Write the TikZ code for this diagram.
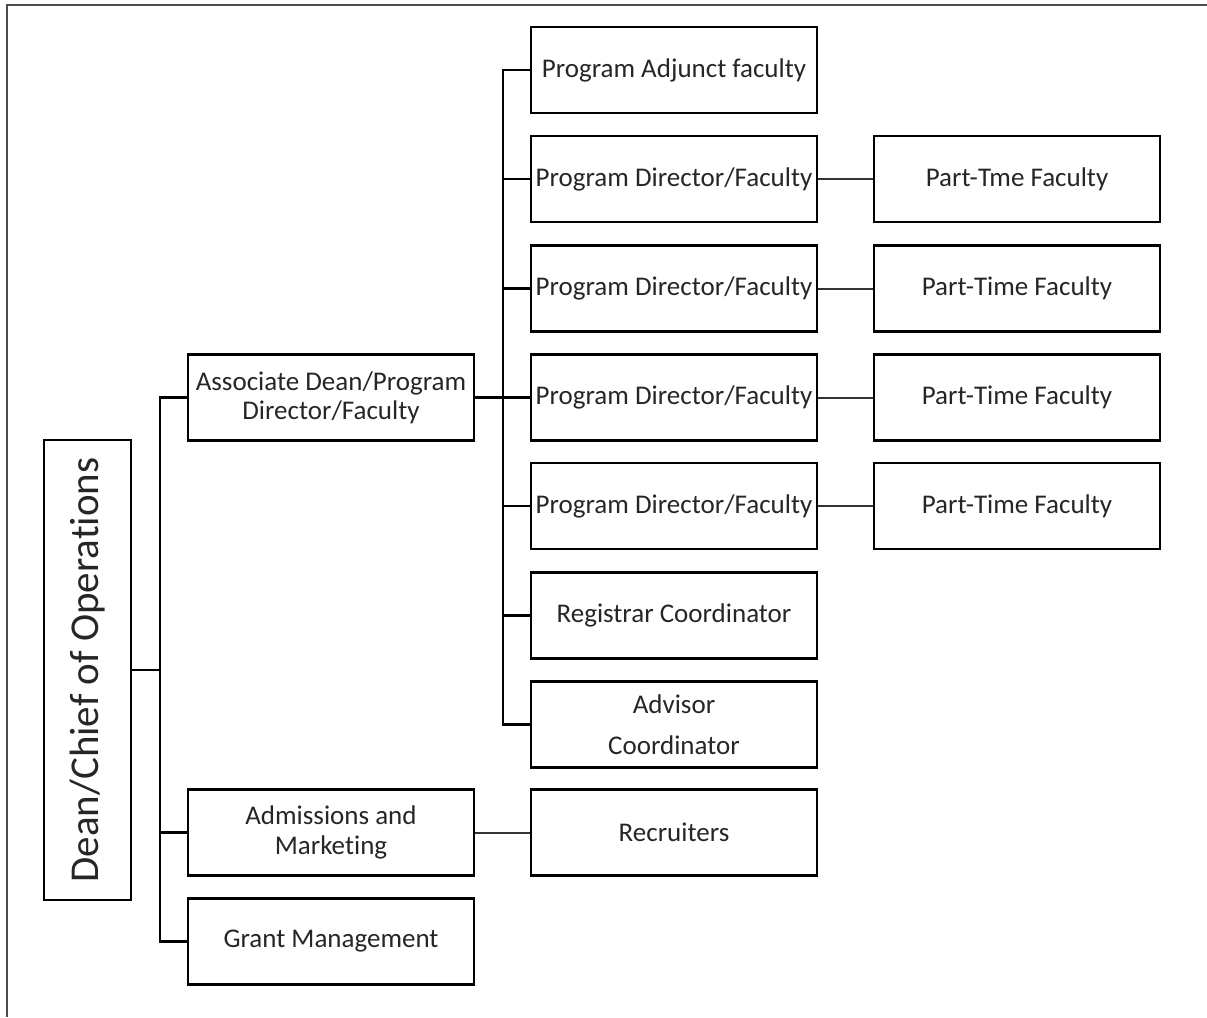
\documentclass[tikz,border=0pt]{standalone}
\usepackage{fontspec}
\setmainfont[Ligatures=NoCommon]{Carlito}
\begin{document}
\begin{tikzpicture}[x=1pt,y=-1pt,
  box/.style={draw=black,line width=2.5pt,minimum width=286pt,minimum height=86pt,
    inner sep=0pt,align=center,font=\fontsize{27}{29}\selectfont,text=black!85},
  link/.style={line width=2.5pt},
  thin link/.style={line width=2pt,draw=black!80}]
\useasboundingbox (0,0) rectangle (1207,1017);
% page frame
\draw[line width=1.5pt,draw=black!70] (7,1017) -- (7,5) -- (1207,5);

% top of the hierarchy
\node[draw=black,line width=2.5pt,minimum width=87pt,minimum height=460pt,inner sep=0pt]
  (dean) at (87.5,670) {};
\node[rotate=90,font=\fontsize{41}{46}\selectfont,text=black!85] at (dean.center) {Dean/Chief of Operations};

% second level
\node[box] (assoc) at (331,397.5) {Associate Dean/Program\\Director/Faculty};
\node[box,font=\fontsize{27}{30}\selectfont] (adm) at (331,832.5) {Admissions and\\Marketing};
\node[box] (grant) at (331,941.5) {Grant Management};

% third level
\node[box] (adj) at (674,70) {Program Adjunct faculty};
\node[box] (pd1) at (674,179) {Program Director/Faculty};
\node[box] (pd2) at (674,288.5) {Program Director/Faculty};
\node[box] (pd3) at (674,397.5) {Program Director/Faculty};
\node[box] (pd4) at (674,506) {Program Director/Faculty};
\node[box] (reg) at (674,615.5) {Registrar Coordinator};
\node[box,font=\fontsize{27}{41}\selectfont] (adv) at (674,724.5) {Advisor\\Coordinator};
\node[box] (rec) at (674,832.5) {Recruiters};

% part-time faculty
\node[box] (pt1) at (1017,179) {Part-Tme Faculty};
\node[box] (pt2) at (1017,288.5) {Part-Time Faculty};
\node[box] (pt3) at (1017,397.5) {Part-Time Faculty};
\node[box] (pt4) at (1017,506) {Part-Time Faculty};

% dean bus
\coordinate (busA) at (160,0);
\draw[link] (dean.east) -- (dean.east -| busA);
\draw[link] (assoc.west) -- (assoc.west -| busA) -- (grant.west -| busA) -- (grant.west);
\draw[link] (adm.west) -- (adm.west -| busA);

% associate dean bus
\coordinate (busB) at (503,0);
\draw[line width=3.8pt] (assoc.east) -- (assoc.east -| busB);
\draw[link] (adj.west) -- (adj.west -| busB) -- (adv.west -| busB) -- (adv.west);
\foreach \n in {pd1,pd2,pd3,pd4,reg}
  \draw[link] (\n.west) -- (\n.west -| busB);

% program director to part-time links
\foreach \a/\b in {pd1/pt1,pd2/pt2,pd3/pt3,pd4/pt4}
  \draw[thin link] (\a.east) -- (\b.west);

% admissions to recruiters
\draw[thin link] (adm.east) -- (rec.west);
\end{tikzpicture}
\end{document}
